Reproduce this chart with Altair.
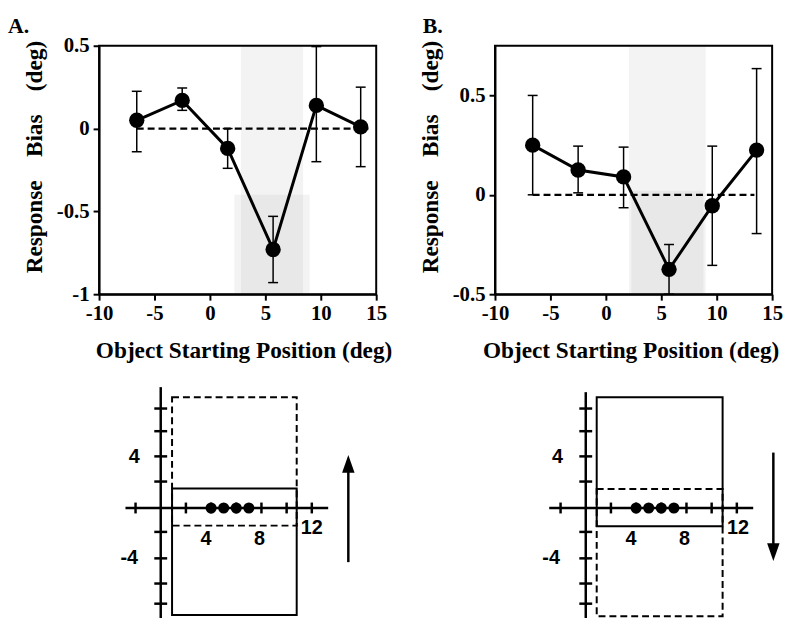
import altair as alt
import pandas as pd

# ---------------- data ----------------
POS = [-6.6, -2.5, 1.6, 5.7, 9.6, 13.6]

A_MEAN = [0.05, 0.17, -0.12, -0.73, 0.14, 0.01]
A_HI = [0.225, 0.245, 0.0, -0.53, 0.495, 0.25]
A_LO = [-0.14, 0.11, -0.24, -0.93, -0.2, -0.23]

B_MEAN = [0.25, 0.125, 0.09, -0.375, -0.055, 0.225]
B_HI = [0.5, 0.245, 0.24, -0.25, 0.245, 0.635]
B_LO = [0.0, 0.01, -0.065, -0.5, -0.355, -0.195]

A_ZERO = [-6.6, 14.3]
B_ZERO = [-6.6, 13.4]

A_SHADE_X = [2.8, 8.4]
A_SHADE_DENSE_X = [2.2, 9.0]
A_SHADE_DENSE_Y = [-1.0, -0.4]
B_SHADE_X = [2.1, 9.0]
B_SHADE_DENSE_X = [2.3, 8.8]
B_SHADE_DENSE_Y = [-0.5, 0.02]

A_XTICKS = [-10, -5, 0, 5, 10, 15]
A_YTICKS = [-1, -0.5, 0, 0.5]
B_YTICKS = [-0.5, 0, 0.5]

# diagrams (units of deg)
D_HTICKS = [-2, 2, 4, 6, 8, 10, 12]
D_VTICKS = [7.9, 6.1, 4.1, 2.1, -1.9, -4, -6, -7.6]
D_DOTS = [4, 5, 6, 7]
DA_HAXIS = [-2.8, 13.3]
DA_VAXIS = [-9.6, 9.6]
DB_HAXIS = [-2.9, 13.3]
DB_VAXIS = [-9.6, 9.2]
DA_SOLID = [0.9, 10.8, -8.5, 1.55]
DA_DASH = [0.9, 10.8, -1.4, 8.8]
DB_SOLID = [0.87, 10.87, -1.45, 8.8]
DB_DASH = [0.87, 10.87, -8.6, 1.5]
D_LABELS = ["4", "8", "12", "4", "-4"]
DA_LABEL_X = [3.6, 7.85, 12.0, -2.1, -2.5]
DA_LABEL_Y = [-2.5, -2.5, -1.6, 4.05, -4.0]
DB_LABEL_X = [3.6, 7.85, 12.1, -2.25, -2.75]
DB_LABEL_Y = [-2.5, -2.5, -1.6, 4.05, -3.95]
DA_ARROW = [14.9, -4.3, 3.5]
DB_ARROW = [14.9, 4.4, -3.5]

W, H = 785, 610
SERIF = "Liberation Serif"
SANS = "Liberation Sans"
YTITLE = "\u00a0\u00a0\u00a0\u00a0".join(["Response", "Bias", "(deg)"])


def sx(lo, hi, r0, r1):
    return alt.Scale(domain=[lo, hi], range=[r0, r1], nice=False, zero=False)


def panel(mean, hi, lo, zero, shade_x, dense_x, dense_y, ydom, xrange, yticks, yaxis_off, title_x):
    XS = sx(-10, 15, xrange[0], xrange[1])
    YS = sx(ydom[0], ydom[1], 286, 35)
    df = pd.DataFrame({"x": POS, "m": mean, "hi": hi, "lo": lo})
    layers = []
    shade = pd.DataFrame({"x": [shade_x[0]], "x2": [shade_x[1]], "y": [ydom[0]], "y2": [ydom[1]]})
    layers.append(alt.Chart(shade).mark_rect(color="#a0a0a0", opacity=0.13).encode(
        x=alt.X("x:Q", scale=XS, axis=None), x2="x2", y=alt.Y("y:Q", scale=YS, axis=None), y2="y2"))
    dense = pd.DataFrame({"x": [dense_x[0]], "x2": [dense_x[1]], "y": [dense_y[0]], "y2": [dense_y[1]]})
    layers.append(alt.Chart(dense).mark_rect(color="#a0a0a0", opacity=0.12).encode(
        x=alt.X("x:Q", scale=XS, axis=None), x2="x2", y=alt.Y("y:Q", scale=YS, axis=None), y2="y2"))
    # box with axes
    box = pd.DataFrame({"x": [-10], "x2": [15], "y": [ydom[0]], "y2": [ydom[1]]})
    layers.append(alt.Chart(box).mark_rect(fillOpacity=0, stroke="black", strokeWidth=2).encode(
        x=alt.X("x:Q", scale=XS, axis=alt.Axis(
            orient="bottom", offset=286 - H, values=A_XTICKS, labelExpr="toString(datum.value)",
            title="Object Starting Position (deg)", titleX=title_x, titleY=64,
            titleBaseline="alphabetic", titleFont=SERIF, titleFontSize=23.5, titleFontWeight="bold",
            titleColor="black", labelFont=SERIF, labelFontSize=21, labelFontWeight="bold",
            labelColor="black", labelPadding=3, labelOverlap=False, labelFlush=False, tickSize=6,
            tickWidth=2, tickColor="black", domainColor="black", domainWidth=2, grid=False)),
        x2="x2",
        y=alt.Y("y:Q", scale=YS, axis=alt.Axis(
            orient="left", offset=yaxis_off, values=yticks, labelExpr="toString(datum.value)",
            title=YTITLE, titleX=-65, titleY=147, titleAngle=270, titleBaseline="middle",
            titleAlign="center", titleFont=SERIF, titleFontSize=23.5, titleFontWeight="bold",
            titleColor="black", labelFont=SERIF, labelFontSize=21, labelFontWeight="bold",
            labelColor="black", labelPadding=4, labelOverlap=False, labelFlush=False, tickSize=6,
            tickWidth=2, tickColor="black", domainColor="black", domainWidth=2, grid=False)),
        y2="y2"))
    zdf = pd.DataFrame({"x": [zero[0]], "x2": [zero[1]], "y": [0]})
    layers.append(alt.Chart(zdf).mark_rule(color="black", strokeWidth=2.2, strokeDash=[7, 4]).encode(
        x=alt.X("x:Q", scale=XS, axis=None), x2="x2", y=alt.Y("y:Q", scale=YS, axis=None)))
    layers.append(alt.Chart(df).mark_rule(color="black", strokeWidth=1.5).encode(
        x=alt.X("x:Q", scale=XS, axis=None), y=alt.Y("lo:Q", scale=YS, axis=None), y2="hi"))
    for f in ["hi", "lo"]:
        layers.append(alt.Chart(df).mark_tick(orient="horizontal", size=10, thickness=1.5, color="black", opacity=1).encode(
            x=alt.X("x:Q", scale=XS, axis=None), y=alt.Y(f + ":Q", scale=YS, axis=None)))
    layers.append(alt.Chart(df).mark_line(color="black", strokeWidth=3).encode(
        x=alt.X("x:Q", scale=XS, axis=None), y=alt.Y("m:Q", scale=YS, axis=None), order="x:Q"))
    layers.append(alt.Chart(df).mark_point(filled=True, size=240, color="black", opacity=1).encode(
        x=alt.X("x:Q", scale=XS, axis=None), y=alt.Y("m:Q", scale=YS, axis=None)))
    return layers


def diagram(x0, haxis, vaxis, solid, dash, lab_x, lab_y, arrow, up):
    unit = 12.72
    XS = sx(0, 12, x0, x0 + 12 * unit)
    YS = sx(0, 8, 502, 502 - 8 * unit)
    X = lambda f: alt.X(f, scale=XS, axis=None)
    Y = lambda f: alt.Y(f, scale=YS, axis=None)
    layers = []
    for r, dashed in [(solid, False), (dash, True)]:
        rd = pd.DataFrame({"x": [r[0]], "x2": [r[1]], "y": [r[2]], "y2": [r[3]]})
        kw = dict(fillOpacity=0, stroke="black", strokeWidth=2)
        if dashed:
            kw["strokeDash"] = [7, 4]
        layers.append(alt.Chart(rd).mark_rect(**kw).encode(x=X("x:Q"), x2="x2", y=Y("y:Q"), y2="y2"))
    hd = pd.DataFrame({"x": [haxis[0]], "x2": [haxis[1]], "y": [0]})
    layers.append(alt.Chart(hd).mark_rule(color="black", strokeWidth=2.5).encode(x=X("x:Q"), x2="x2", y=Y("y:Q")))
    vd = pd.DataFrame({"x": [0], "y": [vaxis[0]], "y2": [vaxis[1]]})
    layers.append(alt.Chart(vd).mark_rule(color="black", strokeWidth=2.5).encode(x=X("x:Q"), y=Y("y:Q"), y2="y2"))
    ht = pd.DataFrame({"x": D_HTICKS, "y": [0] * len(D_HTICKS)})
    layers.append(alt.Chart(ht).mark_tick(orient="vertical", size=11, thickness=2.5, color="black", opacity=1).encode(
        x=X("x:Q"), y=Y("y:Q")))
    vt = pd.DataFrame({"x": [0] * len(D_VTICKS), "y": D_VTICKS})
    layers.append(alt.Chart(vt).mark_tick(orient="horizontal", size=13, thickness=2.5, color="black", opacity=1).encode(
        x=X("x:Q"), y=Y("y:Q")))
    dd = pd.DataFrame({"x": D_DOTS, "y": [0] * len(D_DOTS)})
    layers.append(alt.Chart(dd).mark_point(filled=True, size=125, color="black", opacity=1).encode(
        x=X("x:Q"), y=Y("y:Q")))
    ld = pd.DataFrame({"t": D_LABELS, "x": lab_x, "y": lab_y})
    layers.append(alt.Chart(ld).mark_text(font=SANS, fontSize=20, fontWeight="bold", color="black",
                                          align="center", baseline="middle").encode(
        x=X("x:Q"), y=Y("y:Q"), text="t:N"))
    ad = pd.DataFrame({"x": [arrow[0]], "y": [arrow[1]], "y2": [arrow[2]]})
    layers.append(alt.Chart(ad).mark_rule(color="black", strokeWidth=2.5).encode(x=X("x:Q"), y=Y("y:Q"), y2="y2"))
    head = "M-0.7,1L0,-1L0.7,1Z" if up else "M-0.7,-1L0,1L0.7,-1Z"
    hd2 = pd.DataFrame({"x": [arrow[0]], "y": [arrow[2]]})
    layers.append(alt.Chart(hd2).mark_point(shape=head, filled=True, size=324, color="black", opacity=1).encode(
        x=X("x:Q"), y=Y("y:Q")))
    return layers


layers = []
layers += panel(A_MEAN, A_HI, A_LO, A_ZERO, A_SHADE_X, A_SHADE_DENSE_X, A_SHADE_DENSE_Y,
                [-1, 0.5], [92, 372], A_YTICKS, -92, 238)
layers += panel(B_MEAN, B_HI, B_LO, B_ZERO, B_SHADE_X, B_SHADE_DENSE_X, B_SHADE_DENSE_Y,
                [-0.5, 0.75], [492, 772], B_YTICKS, -492, 629)
layers += diagram(154.3, DA_HAXIS, DA_VAXIS, DA_SOLID, DA_DASH, DA_LABEL_X, DA_LABEL_Y, DA_ARROW, True)
layers += diagram(583.7, DB_HAXIS, DB_VAXIS, DB_SOLID, DB_DASH, DB_LABEL_X, DB_LABEL_Y, DB_ARROW, False)

tag = pd.DataFrame({"t": ["A.", "B."], "px": [0, 419]})
layers.append(alt.Chart(tag).mark_text(font=SERIF, fontSize=22, fontWeight="bold", color="black",
                                       align="left", baseline="alphabetic").encode(
    x=alt.X("px:Q", scale=alt.Scale(domain=[0, W], range=[0, W], nice=False, zero=False), axis=None),
    y=alt.value(22), text="t:N"))

chart = alt.layer(*layers).resolve_scale(x="independent", y="independent").properties(
    width=W, height=H, autosize=alt.AutoSizeParams(type="none"), padding=0
).configure_view(stroke=None)

chart.save("out.html", embed_options={"renderer": "svg", "actions": False})
